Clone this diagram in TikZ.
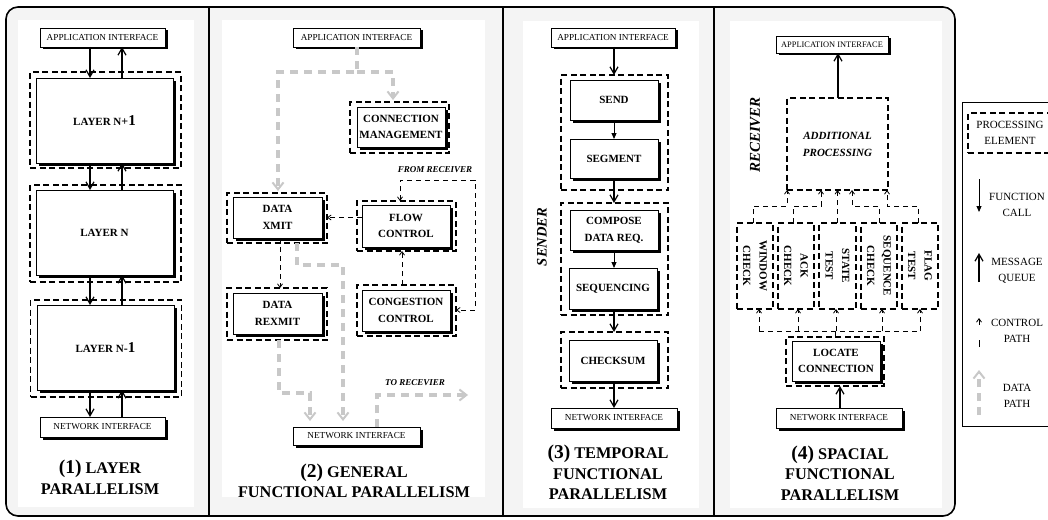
\documentclass[tikz,border=0pt]{standalone}
\usepackage{fontspec}
\setmainfont{Liberation Serif}
\usetikzlibrary{arrows.meta,shadows}
\definecolor{datagray}{RGB}{200,200,200}
\definecolor{framefill}{RGB}{244,244,244}
\newcommand{\panelnum}[1]{{\fontsize{19.5}{20.5}\selectfont #1}}

\begin{document}
\begin{tikzpicture}[x=1pt,y=-1pt,
  every node/.style={inner sep=0pt,outer sep=0pt},
  shadowed/.style={drop shadow={shadow xshift=2.5pt,shadow yshift=-2.5pt,fill=black,opacity=1}},
  unit/.style={draw,line width=0.9pt,fill=white,shadowed,align=center,
    font=\fontsize{11}{16.5}\selectfont\bfseries},
  iface/.style={draw,line width=0.9pt,fill=white,shadowed,
    font=\fontsize{9.2}{10}\selectfont},
  pebox/.style={draw,line width=1.4pt,dash pattern=on 6pt off 3.5pt},
  msg/.style={line width=2pt,>={Straight Barb[length=7pt,width=8pt,line width=1.2pt]},->},
  fcall/.style={line width=0.9pt,>={Triangle[length=6pt,width=5pt]},->},
  ctrl/.style={line width=0.8pt,dash pattern=on 5pt off 4pt,
    >={Straight Barb[length=3.5pt,width=5pt,line width=0.8pt]},->},
  data/.style={line width=3.5pt,datagray,dash pattern=on 8pt off 6pt,
    >={Straight Barb[length=7pt,width=11pt,line width=2pt]},->},
  caption/.style={align=center,font=\fontsize{16.3}{20.5}\selectfont\bfseries},
  side/.style={rotate=90,font=\fontsize{14.5}{16}\selectfont\bfseries\itshape},
  note/.style={font=\fontsize{9}{10}\selectfont\bfseries\itshape},
  cktext/.style={rotate=-90,align=center,font=\fontsize{11}{16.5}\selectfont\bfseries},
  legtext/.style={align=center,font=\fontsize{11}{16}\selectfont},
]
\useasboundingbox (0,0) rectangle (1048,519);

% outer frame, panel backgrounds and separators
\draw[line width=1.6pt,fill=framefill,rounded corners=12pt] (6,7) rectangle (955,516);
\fill[white] (18,20) rectangle (194,507);
\fill[white] (222,20) rectangle (485,497);
\fill[white] (523,21) rectangle (699,508);
\fill[white] (730,21) rectangle (942,508);
\draw[line width=1.6pt] (209,7) -- (209,516);
\draw[line width=1.6pt] (503,7) -- (503,516);
\draw[line width=1.6pt] (714,7) -- (714,516);

% ---------- (1) layer parallelism ----------
\node[iface,minimum width=125,minimum height=19] (app1) at (102.5,37.5) {APPLICATION INTERFACE};
\node[pebox,minimum width=151,minimum height=96] (pe1a) at (105.5,120) {};
\node[unit,minimum width=137,minimum height=85] (lay1) at (104.5,120.5)
  {LAYER N{\fontsize{12}{12}\selectfont+}{\fontsize{15}{15}\selectfont 1}};
\node[pebox,minimum width=151,minimum height=97] (pe1b) at (105.5,233.5) {};
\node[unit,minimum width=137,minimum height=85] (lay2) at (104.5,232.5) {LAYER N};
\node[pebox,minimum width=151,minimum height=97] (pe1c) at (106,348.5) {};
\node[unit,minimum width=137,minimum height=85] (lay3) at (105.5,347.5)
  {LAYER N{\fontsize{12}{12}\selectfont-}{\fontsize{15}{15}\selectfont 1}};
\node[iface,minimum width=125,minimum height=20] (net1) at (102.5,427) {NETWORK INTERFACE};
\node[caption] (cap1) at (100,477.5) {\panelnum{(1)} LAYER\\PARALLELISM};

\coordinate (c1d) at (90,0);
\coordinate (c1u) at (122,0);
\draw[msg] (app1.south -| c1d) -- (lay1.north -| c1d);
\draw[msg] (lay1.north -| c1u) -- (app1.south -| c1u);
\draw[msg] (lay1.south -| c1d) -- (lay2.north -| c1d);
\draw[msg] (lay2.north -| c1u) -- (lay1.south -| c1u);
\draw[msg] (lay2.south -| c1d) -- (lay3.north -| c1d);
\draw[msg] (lay3.north -| c1u) -- (lay2.south -| c1u);
\draw[msg] (lay3.south -| c1d) -- (net1.north -| c1d);
\draw[msg] (net1.north -| c1u) -- (lay3.south -| c1u);

% ---------- (2) general functional parallelism ----------
\node[iface,minimum width=127,minimum height=19] (app2) at (356.5,37.5) {APPLICATION INTERFACE};
\node[pebox,minimum width=99,minimum height=51] (pecm) at (399.5,127.5) {};
\node[unit,minimum width=88,minimum height=40] (cm) at (401,127) {CONNECTION\\MANAGEMENT};
\node[pebox,minimum width=100,minimum height=50] (pedx) at (277,218) {};
\node[unit,minimum width=89,minimum height=41] (dx) at (277.5,217.5) {DATA\\XMIT};
\node[pebox,minimum width=99,minimum height=50] (pefc) at (406.5,226) {};
\node[unit,minimum width=88,minimum height=42] (fc) at (406,226) {FLOW\\CONTROL};
\node[pebox,minimum width=100,minimum height=52] (pedr) at (277,314) {};
\node[unit,minimum width=89,minimum height=41] (drx) at (277.5,313.5) {DATA\\REXMIT};
\node[pebox,minimum width=99,minimum height=51] (pecc) at (406.5,310.5) {};
\node[unit,minimum width=88,minimum height=41] (cc) at (406,310.5) {CONGESTION\\CONTROL};
\node[iface,minimum width=127,minimum height=18] (net2) at (356.5,436) {NETWORK INTERFACE};
\node[note] (fromrx) at (435,170) {FROM RECEIVER};
\node[note] (torx) at (415,383) {TO RECEVIER};
\node[caption] (cap2) at (354,481) {\panelnum{(2)} GENERAL\\FUNCTIONAL PARALLELISM};

% data paths
\coordinate (j2) at (357,72);
\coordinate (jl) at (278,72);
\coordinate (jr) at (393,72);
\draw[data,shorten >=2pt] (app2.south -| j2) -- (j2) -- (jl) -- (jl |- pedx.north);
\draw[data,shorten >=2pt] (j2) -- (jr) -- (jr |- pecm.north);
\coordinate (k1) at (297,265);
\coordinate (k2) at (343,265);
\draw[data,shorten >=6pt] (pedx.south -| k1) -- (k1) -- (k2) -- (k2 |- net2.north);
\coordinate (k3) at (279,393);
\coordinate (k4) at (310,393);
\draw[data,shorten >=6pt] (pedr.south -| k3) -- (k3) -- (k4) -- (k4 |- net2.north);
\coordinate (k5) at (377,395);
\coordinate (k6) at (468,395);
\draw[data] (net2.north -| k5) -- (k5) -- (k6);

% control paths
\draw[ctrl] (fc.west |- dx) -- (pedx.east |- dx);
\coordinate (k7) at (402,0);
\draw[ctrl] (pecc.north -| k7) -- (pefc.south -| k7);
\coordinate (k8) at (280,0);
\draw[ctrl] (dx.south -| k8) -- (pedr.north -| k8);
\coordinate (fr1) at (400,180);
\coordinate (fr2) at (475,180);
\coordinate (fr3) at (475,310);
\draw[ctrl,<->] (pefc.north -| fr1) -- (fr1) -- (fr2) -- (fr3) -- (pecc.east |- fr3);

% ---------- (3) temporal functional parallelism ----------
\node[iface,minimum width=124,minimum height=19] (app3) at (613,37.5) {APPLICATION INTERFACE};
\node[pebox,minimum width=107,minimum height=115] (peA) at (614.5,132.5) {};
\node[unit,minimum width=88,minimum height=40] (send) at (614,100) {SEND};
\node[unit,minimum width=88,minimum height=39] (seg) at (614,158.5) {SEGMENT};
\node[pebox,minimum width=107,minimum height=112] (peB) at (614.5,259) {};
\node[unit,minimum width=88,minimum height=40] (comp) at (614,230) {COMPOSE\\DATA REQ.};
\node[unit,minimum width=88,minimum height=41] (seqn) at (613,288.5) {SEQUENCING};
\node[pebox,minimum width=107,minimum height=56] (peC) at (614.5,360) {};
\node[unit,minimum width=88,minimum height=41] (chk) at (613,360.5) {CHECKSUM};
\node[iface,minimum width=126,minimum height=20] (net3) at (614,418) {NETWORK INTERFACE};
\node[side] (sender) at (542,237) {SENDER};
\node[caption] (cap3) at (608,472.5) {\panelnum{(3)} TEMPORAL\\FUNCTIONAL\\PARALLELISM};

\coordinate (c3) at (614,0);
\draw[msg] (app3.south -| c3) -- (peA.north -| c3);
\draw[fcall] (send.south -| c3) -- (seg.north -| c3);
\draw[msg] (seg.south -| c3) -- (peB.north -| c3);
\draw[fcall] (comp.south -| c3) -- (seqn.north -| c3);
\draw[msg] (seqn.south -| c3) -- (peC.north -| c3);
\draw[msg] (chk.south -| c3) -- (net3.north -| c3);

% ---------- (4) spacial functional parallelism ----------
\node[iface,minimum width=112,minimum height=17,font=\fontsize{8.4}{9}\selectfont] (app4) at (832,44.5) {APPLICATION INTERFACE};
\node[pebox,minimum width=101,minimum height=92,align=center,
  font=\fontsize{11}{17}\selectfont\bfseries\itshape] (addp) at (837.5,144) {ADDITIONAL\\PROCESSING};
\node[side,font=\fontsize{15}{16}\selectfont\bfseries\itshape] (recv) at (755,135) {RECEIVER};
\node[pebox,minimum width=36,minimum height=86] (ck1) at (755,266) {};
\node[pebox,minimum width=36,minimum height=86] (ck2) at (796,266) {};
\node[pebox,minimum width=37,minimum height=86] (ck3) at (837.5,266) {};
\node[pebox,minimum width=36,minimum height=86] (ck4) at (879,266) {};
\node[pebox,minimum width=36,minimum height=86] (ck5) at (920,266) {};
\node[cktext] (ck1t) at (ck1) {WINDOW\\CHECK};
\node[cktext] (ck2t) at (ck2) {ACK\\CHECK};
\node[cktext] (ck3t) at (ck3) {STATE\\TEST};
\node[cktext] (ck4t) at (ck4) {SEQUENCE\\CHECK};
\node[cktext] (ck5t) at (ck5) {FLAG\\TEST};
\node[pebox,minimum width=98,minimum height=49] (pelc) at (835,361.5) {};
\node[unit,minimum width=88,minimum height=40] (loc) at (836,361) {LOCATE\\CONNECTION};
\node[iface,minimum width=126,minimum height=20] (net4) at (839,418) {NETWORK INTERFACE};
\node[caption] (cap4) at (840,473) {\panelnum{(4)} SPACIAL\\FUNCTIONAL\\PARALLELISM};

\coordinate (c4a) at (838,0);
\coordinate (c4b) at (840,0);
\draw[msg] (addp.north -| c4a) -- (app4.south -| c4a);
\draw[msg] (net4.north -| c4b) -- (pelc.south -| c4b);

% check results gathered into additional processing
\coordinate (u1) at (787,206);
\coordinate (u2) at (821,206);
\coordinate (u4) at (852,206);
\coordinate (u5) at (887,206);
\draw[ctrl] ([xshift=-2pt]ck1.north) |- (u1) -- (u1 |- addp.south);
\draw[ctrl] ([xshift=-3pt]ck2.north) |- (u2) -- (u2 |- addp.south);
\draw[ctrl] (ck3.north) -- (ck3.north |- addp.south);
\draw[ctrl] (ck4.north) |- (u4) -- (u4 |- addp.south);
\draw[ctrl] ([xshift=-2pt]ck5.north) |- (u5) -- (u5 |- addp.south);

% dispatch from locate connection to the checks
\coordinate (bus) at (0,331);
\draw[ctrl,-] ([xshift=4pt]ck1.south |- bus) -- (ck5.south |- bus);
\draw[ctrl,-] (pelc.north) -- (pelc.north |- bus);
\draw[ctrl] ([xshift=4pt]ck1.south |- bus) -- ([xshift=4pt]ck1.south);
\draw[ctrl] ([xshift=2pt]ck2.south |- bus) -- ([xshift=2pt]ck2.south);
\draw[ctrl] ([xshift=-1.5pt]ck3.south |- bus) -- ([xshift=-1.5pt]ck3.south);
\draw[ctrl] ([xshift=3pt]ck4.south |- bus) -- ([xshift=3pt]ck4.south);
\draw[ctrl] (ck5.south |- bus) -- (ck5.south);

% ---------- legend (its right side runs past the page edge) ----------
\node[draw,line width=1pt,minimum width=92,minimum height=324] (legbox) at (1008,264) {};
\node[pebox,minimum width=84,minimum height=40,legtext] (legpe) at (1010,133) {PROCESSING\\ELEMENT};
\coordinate (lf1) at (979,179);
\coordinate (lf2) at (979,212);
\draw[fcall] (lf1) -- (lf2);
\node[legtext] (legf) at (1017,205) {FUNCTION\\CALL};
\coordinate (lm1) at (979,282);
\coordinate (lm2) at (979,253);
\draw[msg] (lm1) -- (lm2);
\node[legtext] (legm) at (1017,271) {MESSAGE\\QUEUE};
\coordinate (lc1) at (979,347);
\coordinate (lc2) at (979,318);
\draw[ctrl,dash pattern=on 7pt off 15pt] (lc1) -- (lc2);
\node[legtext] (legc) at (1017,331) {CONTROL\\PATH};
\coordinate (ld1) at (979,415);
\coordinate (ld2) at (979,370);
\draw[data] (ld1) -- (ld2);
\node[legtext] (legd) at (1017,396) {DATA\\PATH};
\end{tikzpicture}
\end{document}
